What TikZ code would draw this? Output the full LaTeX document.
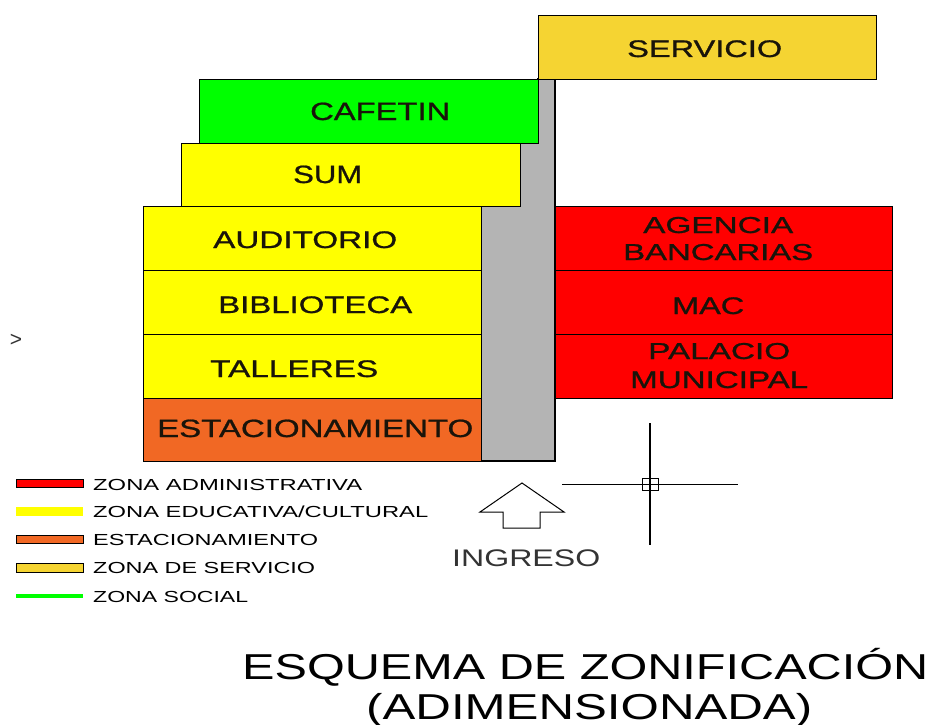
\documentclass[tikz,border=0pt]{standalone}
\usepackage{fontspec}
\setmainfont{Liberation Sans}
\newfontfamily\zonefont[FakeBold=0.8]{Liberation Sans}
\usepackage{graphicx}
\newcommand{\fitxt}[3]{{\fontsize{#1pt}{#1pt}\selectfont\resizebox{#2pt}{\height}{#3}}}
\newcommand{\zfit}[3]{{\zonefont\fontsize{#1pt}{#1pt}\selectfont\resizebox{#2pt}{\height}{#3}}}
\definecolor{zyellow}{RGB}{255,255,0}
\definecolor{zgreen}{RGB}{0,255,0}
\definecolor{zred}{RGB}{255,0,0}
\definecolor{zorange}{RGB}{241,104,36}
\definecolor{zserv}{RGB}{245,212,50}
\definecolor{zgray}{RGB}{180,180,180}
\definecolor{ztext}{RGB}{25,20,10}
\tikzset{
  zone/.style={draw=black, line width=1.2pt, inner sep=0pt, anchor=north west},
  lbl/.style={inner sep=0pt, anchor=base west, text=black},
  zlbl/.style={inner sep=0pt, anchor=base west, text=ztext},
  sw/.style={draw=black, line width=1pt},
}
\begin{document}
\begin{tikzpicture}[x=1pt,y=-1pt]
\useasboundingbox (0,0) rectangle (935,725);
% circulation corridor
\draw[fill=zgray, line width=1.2pt] (538,79) -- (555,79) -- (555,461) -- (481,461) -- (481,206) -- (520,206) -- (520,143) -- (538,143) -- cycle;
% zones
\node[zone, fill=zserv, minimum width=338pt, minimum height=64pt] (serv) at (538,15) {};
\node[zone, fill=zgreen, minimum width=339pt, minimum height=64pt] (cafe) at (199,79) {};
\node[zone, fill=zyellow, minimum width=339pt, minimum height=63pt] (sum) at (181,143) {};
\node[zone, fill=zyellow, minimum width=338pt, minimum height=64pt] (aud) at (143,206) {};
\node[zone, fill=zyellow, minimum width=338pt, minimum height=64pt] (bib) at (143,270) {};
\node[zone, fill=zyellow, minimum width=338pt, minimum height=64pt] (tal) at (143,334) {};
\node[zone, fill=zorange, minimum width=338pt, minimum height=63pt] (est) at (143,398) {};
\node[zone, fill=zred, minimum width=337pt, minimum height=64pt] (ag) at (555,206) {};
\node[zone, fill=zred, minimum width=337pt, minimum height=64pt] (mac) at (555,270) {};
\node[zone, fill=zred, minimum width=337pt, minimum height=64pt] (pal) at (555,334) {};
% zone labels
\node[zlbl] (tserv) at (627,57) {\zfit{24}{155}{SERVICIO}};
\node[zlbl] (tcafe) at (310,120) {\zfit{25}{140}{CAFETIN}};
\node[zlbl] (tsum) at (293,183) {\zfit{25}{69}{SUM}};
\node[zlbl] (taud) at (213,248) {\zfit{24}{184}{AUDITORIO}};
\node[zlbl] (tbib) at (218,313) {\zfit{24}{194}{BIBLIOTECA}};
\node[zlbl] (ttal) at (210,377) {\zfit{24}{168}{TALLERES}};
\node[zlbl] (test) at (157,437) {\zfit{25}{316}{ESTACIONAMIENTO}};
\node[zlbl] (tag1) at (643,233) {\zfit{23}{150}{AGENCIA}};
\node[zlbl] (tag2) at (623,260) {\zfit{23}{190}{BANCARIAS}};
\node[zlbl] (tmac) at (672,314) {\zfit{24}{72}{MAC}};
\node[zlbl] (tpal1) at (648,359) {\zfit{23}{142}{PALACIO}};
\node[zlbl] (tpal2) at (630,388) {\zfit{24}{178}{MUNICIPAL}};
% entrance arrow
\draw[line width=1pt, line join=miter] (522,483) -- (564,512) -- (540,512) -- (540,528) -- (503,528) -- (503,512) -- (480,512) -- cycle;
\node[lbl, text=black!80] (ting) at (452,566) {\fitxt{24}{148}{INGRESO}};
% crosshair
\coordinate (ch) at (650,484);
\coordinate (chl) at (562,484);
\coordinate (chr) at (738,484);
\coordinate (cht) at (650,423);
\coordinate (chb) at (650,545);
\draw[line width=1pt] (chl) -- (chr);
\draw[line width=1.2pt] (cht) -- (chb);
\draw[line width=1pt] ([shift={(-8,-6)}]ch) rectangle ([shift={(8,6)}]ch);
% small mark
\node[inner sep=0pt, text=black!80] (gt) at (16,340) {\fontsize{21pt}{21pt}\selectfont >};
% legend
\draw[sw, fill=zred] (16,479) rectangle (83,487);
\fill[zyellow] (16,507) rectangle (83,516);
\draw[sw, fill=zorange] (16,535) rectangle (83,543);
\draw[sw, fill=zserv] (16,563) rectangle (83,572);
\draw[zgreen, line width=4.5pt] (16,596) -- (83,596);
\node[lbl] (l1) at (93,490) {\fitxt{16}{269}{ZONA ADMINISTRATIVA}};
\node[lbl] (l2) at (93,517) {\fitxt{16}{335}{ZONA EDUCATIVA/CULTURAL}};
\node[lbl] (l3) at (93,545) {\fitxt{16}{225}{ESTACIONAMIENTO}};
\node[lbl] (l4) at (93,573) {\fitxt{16}{222}{ZONA DE SERVICIO}};
\node[lbl] (l5) at (93,602) {\fitxt{16}{155}{ZONA SOCIAL}};
% title
\node[lbl] (title1) at (242,679) {\fitxt{36}{686}{ESQUEMA DE ZONIFICACIÓN}};
\node[lbl] (title2) at (366,719) {\fitxt{36}{446}{(ADIMENSIONADA)}};
\end{tikzpicture}
\end{document}
